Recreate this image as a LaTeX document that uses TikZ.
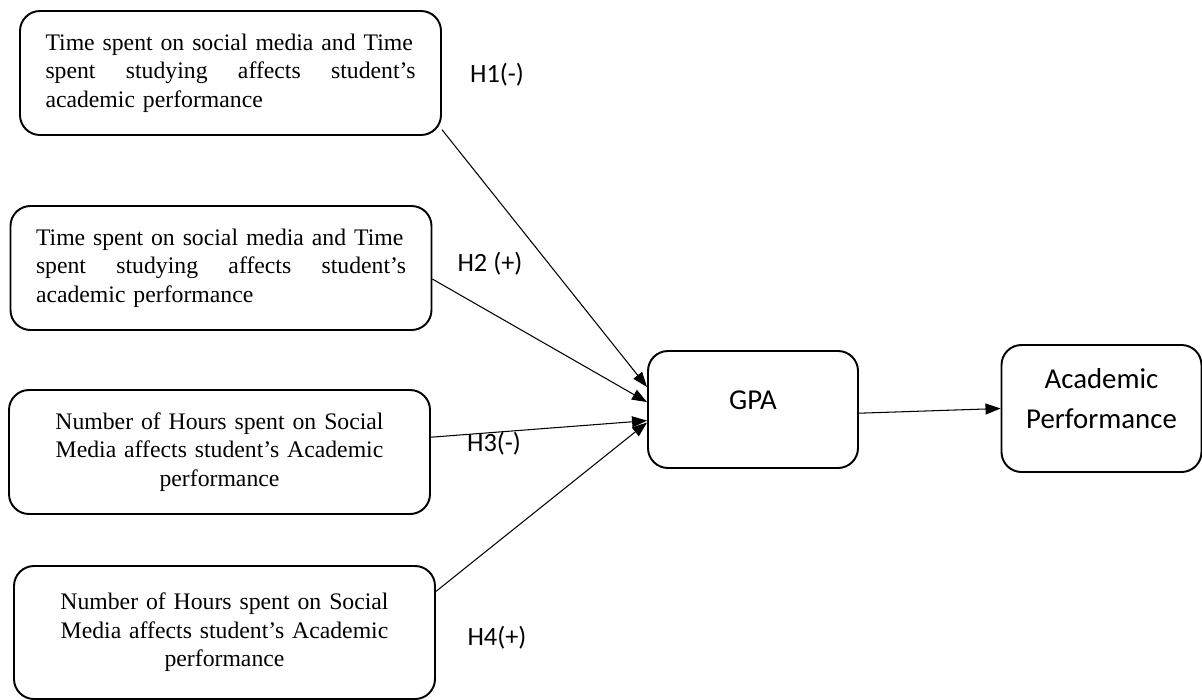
\documentclass[tikz,border=0pt]{standalone}
\usepackage{fontspec}
\setmainfont{Liberation Serif}
\newfontfamily\calibri{Carlito}
\usetikzlibrary{arrows.meta}

\begin{document}
\begin{tikzpicture}[
  hyp/.style={draw, line width=1.1pt, rounded corners=0.4cm, minimum width=8.42cm, minimum height=2.48cm, text width=7.4cm, font=\fontsize{13.5}{16.3}\selectfont},
  outbox/.style={draw, line width=1.1pt, rounded corners=0.4cm, align=center, font=\calibri\fontsize{16.4}{22.3}\selectfont},
  link/.style={line width=0.6pt, -{Triangle[length=0.3cm,width=0.22cm]}},
  hlabel/.style={font=\calibri\fontsize{15}{17}\selectfont}]
  \useasboundingbox (0cm,0cm) rectangle (24.04cm,-14cm);
  \node[hyp, align=left] (box1) at (4.61cm,-1.46cm) {Time spent on social media and Time\\ spent\hfill studying\hfill affects\hfill student's\\ academic performance};
  \node[hyp, align=left] (box2) at (4.42cm,-5.36cm) {Time spent on social media and Time\\ spent\hfill studying\hfill affects\hfill student's\\ academic performance};
  \node[hyp, align=center] (box3) at (4.39cm,-9.04cm) {Number of Hours spent on Social\\ Media affects student's Academic\\ performance};
  \node[hyp, align=center, minimum height=2.66cm] (box4) at (4.49cm,-12.65cm) {Number of Hours spent on Social\\ Media affects student's Academic\\ performance};
  \node[outbox, minimum width=4.2cm, minimum height=2.34cm, text depth=0.38cm] (gpa) at (15.06cm,-8.19cm) {GPA};
  \node[outbox, minimum width=4cm, minimum height=2.54cm, text depth=0.4cm] (perf) at (22.03cm,-8.17cm) {Academic\\ Performance};
  \node[hlabel] (h1) at (9.94cm,-1.5cm) {H1(-)};
  \node[hlabel] (h2) at (9.8cm,-5.28cm) {H2 (+)};
  \node[hlabel] (h3) at (9.88cm,-8.88cm) {H3(-)};
  \node[hlabel] (h4) at (9.94cm,-12.76cm) {H4(+)};
  \draw[link] (box1.-15) -- (gpa.168);
  \draw[link] (box2.-3) -- (gpa.176);
  \draw[link] (box3.4) -- (gpa.186);
  \draw[link] (box4.11) -- (gpa.187);
  \draw[link] (gpa.-2) -- (perf.west);
\end{tikzpicture}
\end{document}
